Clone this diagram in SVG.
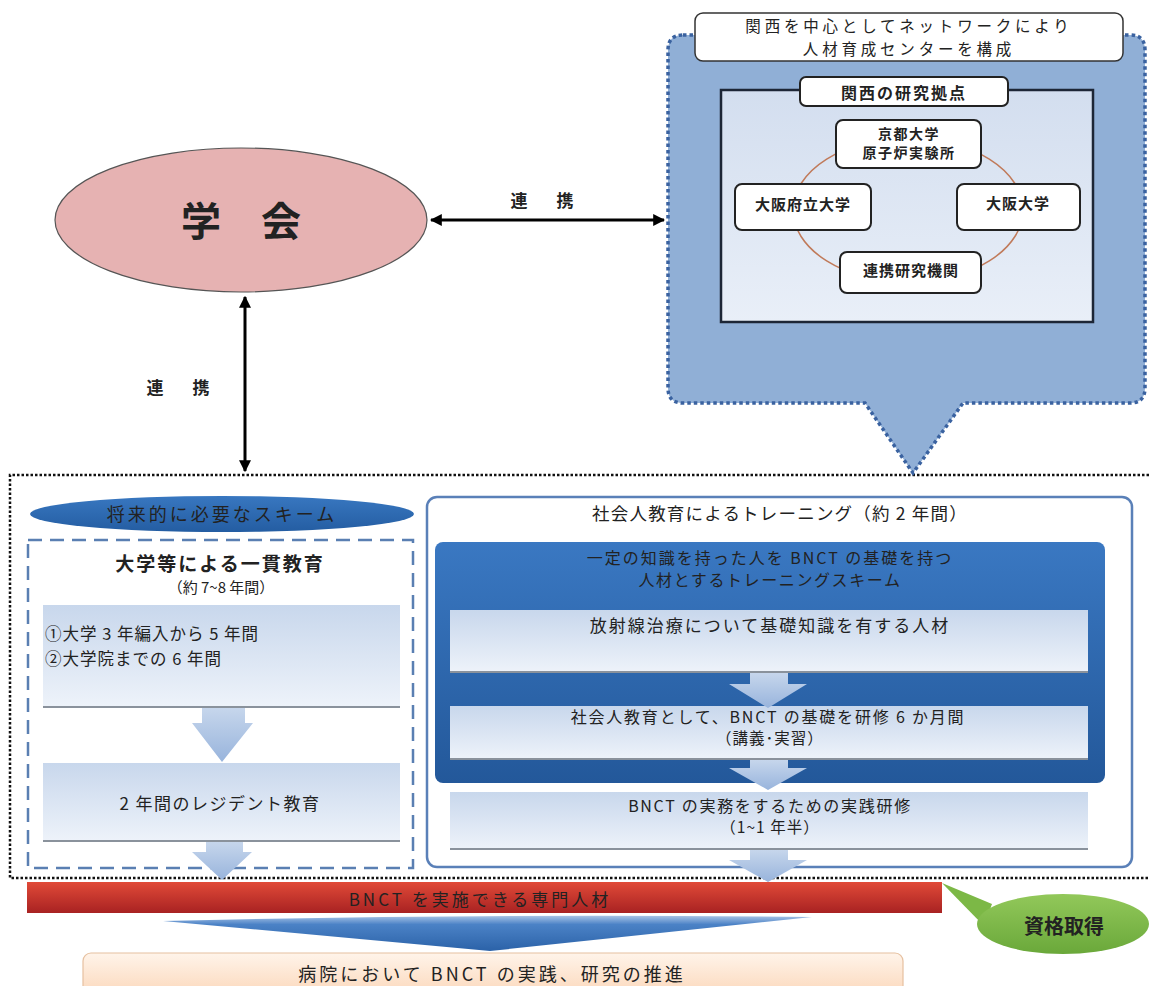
<svg xmlns="http://www.w3.org/2000/svg" width="1149" height="986" viewBox="0 0 1149 986">
<defs>
<style>
text{font-family:"Noto Sans CJK JP","Noto Sans",sans-serif;text-anchor:middle;dominant-baseline:central;fill:#222}
.b{font-weight:bold}
.lbox{fill:url(#gLight)}
.lline{stroke:#8a929c;stroke-width:2}
.dn{fill:url(#gArrow)}
.sbox{fill:#fff;stroke:#222;stroke-width:2}
.conn{stroke:#000;stroke-width:3;fill:none;marker-start:url(#ah);marker-end:url(#ah)}
</style>
<marker id="ah" viewBox="0 0 10 10" refX="9" refY="5" markerWidth="4" markerHeight="4" orient="auto-start-reverse" markerUnits="strokeWidth">
<path d="M0,0 L10,5 L0,10 Z" fill="#000"/>
</marker>
<linearGradient id="gLight" x1="0" y1="0" x2="0" y2="1"><stop offset="0" stop-color="#c8d7ec"/><stop offset="1" stop-color="#eef3fa"/></linearGradient>
<linearGradient id="gArrow" x1="0" y1="0" x2="0" y2="1"><stop offset="0" stop-color="#c6d6ec"/><stop offset="1" stop-color="#98b4dc"/></linearGradient>
<linearGradient id="gBlue" x1="0" y1="0" x2="0" y2="1"><stop offset="0" stop-color="#3a78c2"/><stop offset="1" stop-color="#23589a"/></linearGradient>
<linearGradient id="gOval" x1="0" y1="0" x2="0" y2="1"><stop offset="0" stop-color="#3877c0"/><stop offset="1" stop-color="#245da2"/></linearGradient>
<linearGradient id="gRed" x1="0" y1="0" x2="0" y2="1"><stop offset="0" stop-color="#e14a38"/><stop offset="1" stop-color="#a82222"/></linearGradient>
<linearGradient id="gGreen" x1="0" y1="0" x2="0" y2="1"><stop offset="0" stop-color="#92c85a"/><stop offset="1" stop-color="#6aa83a"/></linearGradient>
<linearGradient id="gChev" x1="0" y1="0" x2="0" y2="1"><stop offset="0" stop-color="#a9c4e6"/><stop offset="0.25" stop-color="#4b82c6"/><stop offset="1" stop-color="#2b62a8"/></linearGradient>
<linearGradient id="gPeach" x1="0" y1="0" x2="0" y2="1"><stop offset="0" stop-color="#fff4ea"/><stop offset="1" stop-color="#fbd6b8"/></linearGradient>
<linearGradient id="gInner" x1="0" y1="0" x2="0" y2="1"><stop offset="0" stop-color="#d3deef"/><stop offset="1" stop-color="#e9eff8"/></linearGradient>
</defs>
<rect width="1149" height="986" fill="#fff"/>

<!-- big dotted frame -->
<path d="M1149,475 H10 V878 H1149" fill="none" stroke="#111" stroke-width="2.5" stroke-dasharray="2.5 2"/>

<g id="gakkai">
<ellipse cx="241" cy="220" rx="186" ry="72" fill="#e6b2b2" stroke="#555" stroke-width="1.2"/>
<text x="241" y="219" class="b" font-size="40">学　会</text>
</g>

<g id="kansai-center">
<path d="M683,35 H1130 Q1145,35 1145,50 V388 Q1145,403 1130,403 H963 L913,473 L865,403 H683 Q668,403 668,388 V50 Q668,35 683,35 Z" fill="#90afd6" stroke="#3a62a0" stroke-width="3.5" stroke-dasharray="3.5 3"/>
<rect x="695" y="13" width="428" height="48" rx="8" fill="#fff" stroke="#333" stroke-width="1.5"/>
<text x="909" y="25" font-size="15.5" letter-spacing="3.8" fill="#333">関西を中心としてネットワークにより</text>
<text x="909" y="48" font-size="15.5" letter-spacing="3.8" fill="#333">人材育成センターを構成</text>
<rect x="721" y="90" width="372" height="232" fill="url(#gInner)" stroke="#1d2636" stroke-width="2.5"/>
<ellipse cx="908" cy="210" rx="115" ry="72" fill="none" stroke="#c07a5a" stroke-width="1.5"/>
</g>
<g id="kansai-label">
<rect x="800" y="77" width="208" height="29" rx="6" class="sbox"/>
<text x="904" y="92" class="b" font-size="16" letter-spacing="2">関西の研究拠点</text>
</g>
<g id="kyoto">
<rect x="836" y="120" width="145" height="48" rx="7" class="sbox"/>
<text x="909" y="133" class="b" font-size="14" letter-spacing="1.5">京都大学</text>
<text x="909" y="152" class="b" font-size="14" letter-spacing="1.5">原子炉実験所</text>
</g>
<g id="osaka-pref">
<rect x="735" y="184" width="136" height="46" rx="7" class="sbox"/>
<text x="803" y="203" class="b" font-size="15" letter-spacing="1">大阪府立大学</text>
</g>
<g id="osaka-univ">
<rect x="957" y="184" width="123" height="46" rx="7" class="sbox"/>
<text x="1018" y="202" class="b" font-size="15" letter-spacing="1">大阪大学</text>
</g>
<g id="renkei-kikan">
<rect x="840" y="252" width="141" height="41" rx="7" class="sbox"/>
<text x="911" y="269" class="b" font-size="15" letter-spacing="1">連携研究機関</text>
</g>

<g id="connectors">
<line x1="431" y1="220" x2="664" y2="220" class="conn"/>
<line x1="245" y1="297" x2="245" y2="471" class="conn"/>
<text x="545" y="199" class="b" font-size="17" letter-spacing="6">連　携</text>
<text x="181" y="386" class="b" font-size="17" letter-spacing="6">連　携</text>
</g>

<g id="future-scheme">
<ellipse cx="222" cy="514" rx="192" ry="18" fill="url(#gOval)"/>
<text x="222" y="513" font-size="18" letter-spacing="3" fill="#c9d7ef">将来的に必要なスキーム</text>
<rect x="28" y="540" width="385" height="328" fill="none" stroke="#5a7fb2" stroke-width="2.5" stroke-dasharray="14 8"/>
<text x="220" y="562" font-size="19" letter-spacing="2" class="b" fill="#333">大学等による一貫教育</text>
<text x="221" y="586" font-size="15" fill="#333">（約 7~8 年間）</text>
</g>
<g id="univ-box1">
<rect x="43" y="605" width="357" height="103" class="lbox"/>
<line x1="43" y1="707" x2="400" y2="707" class="lline"/>
<text x="45" y="633" font-size="16.5" letter-spacing="1" style="text-anchor:start">①大学 3 年編入から 5 年間</text>
<text x="45" y="658" font-size="16.5" letter-spacing="1" style="text-anchor:start">②大学院までの 6 年間</text>
</g>
<g id="univ-box2">
<rect x="43" y="763" width="357" height="79" class="lbox"/>
<line x1="43" y1="841" x2="400" y2="841" class="lline"/>
<text x="220" y="802" font-size="17" letter-spacing="1.5">2 年間のレジデント教育</text>
</g>

<g id="training">
<rect x="427" y="497" width="705" height="370" rx="10" fill="#fff" stroke="#5a80b8" stroke-width="2.5"/>
<text x="780" y="512" font-size="17.5" letter-spacing="1.2" fill="#333">社会人教育によるトレーニング（約 2 年間）</text>
<rect x="435" y="542" width="670" height="241" rx="8" fill="url(#gBlue)"/>
<text x="770" y="557" font-size="16" letter-spacing="2" fill="#dfe8f6">一定の知識を持った人を BNCT の基礎を持つ</text>
<text x="770" y="579" font-size="16" letter-spacing="1.6" fill="#dfe8f6">人材とするトレーニングスキーム</text>
</g>
<g id="train-a">
<rect x="450" y="610" width="638" height="63" class="lbox"/>
<line x1="450" y1="672" x2="1088" y2="672" class="lline"/>
<text x="770" y="624" font-size="17" letter-spacing="2" fill="#333">放射線治療について基礎知識を有する人材</text>
</g>
<g id="train-b">
<rect x="450" y="706" width="638" height="54" class="lbox"/>
<line x1="450" y1="759" x2="1088" y2="759" class="lline"/>
<text x="768" y="716" font-size="16" letter-spacing="1.8" fill="#333">社会人教育として、BNCT の基礎を研修 6 か月間</text>
<text x="770" y="737" font-size="15.5" letter-spacing="1" fill="#333">（講義･実習）</text>
</g>
<g id="train-c">
<rect x="450" y="792" width="638" height="58" class="lbox"/>
<line x1="450" y1="849" x2="1088" y2="849" class="lline"/>
<text x="770" y="805" font-size="16" letter-spacing="1.7" fill="#333">BNCT の実務をするための実践研修</text>
<text x="770" y="826" font-size="15.5" letter-spacing="1" fill="#333">（1~1 年半）</text>
</g>

<g id="flow-arrows">
<path d="M202,708 H245 V723 H253 L222,762 L192,723 H202 Z" class="dn"/>
<path d="M206,842 H243 V852 H252 L222,880 L192,852 H206 Z" class="dn"/>
<path d="M750,673 H788 V684 H807 L768,708 L729,684 H750 Z" class="dn"/>
<path d="M750,760 H788 V768 H807 L768,790 L729,768 H750 Z" class="dn"/>
<path d="M750,850 H788 V860 H807 L768,882 L729,860 H750 Z" class="dn"/>
</g>

<g id="specialist">
<rect x="27" y="882" width="915" height="31" fill="url(#gRed)"/>
<text x="480" y="898" font-size="17" letter-spacing="3" fill="#f6e4e2">BNCT を実施できる専門人材</text>
</g>
<g id="qualification">
<path d="M942,883 L992,904 L984,926 Z" fill="#7cb846"/>
<ellipse cx="1063" cy="924" rx="86" ry="30" fill="url(#gGreen)"/>
<text x="1064" y="925" class="b" font-size="20" fill="#1e3212">資格取得</text>
</g>
<g id="chevron">
<path d="M163,921 Q490,913 812,917 L490,951 Z" fill="url(#gChev)"/>
</g>
<g id="hospital">
<rect x="83" y="953" width="820" height="45" rx="8" fill="url(#gPeach)" stroke="#e6c0a0" stroke-width="1.2"/>
<text x="492" y="973" font-size="18" letter-spacing="3" fill="#333">病院において BNCT の実践、研究の推進</text>
</g>
</svg>
